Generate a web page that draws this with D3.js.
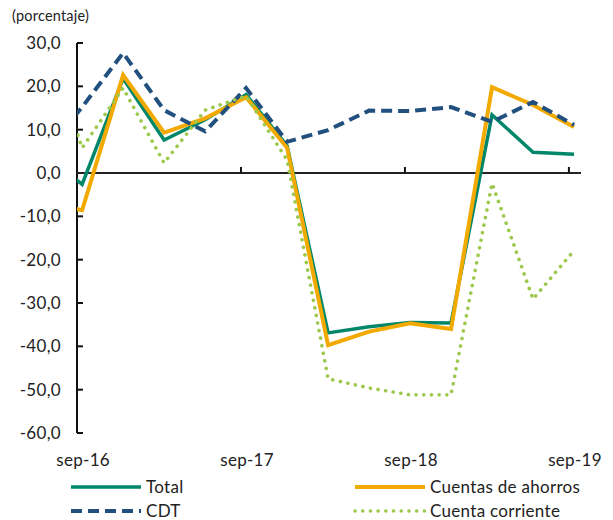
<!DOCTYPE html>
<html><head><meta charset="utf-8">
<script src="https://cdn.jsdelivr.net/npm/d3@7/dist/d3.min.js"></script>
<style>body{margin:0;background:#fff}svg text{font-family:Lato,"Open Sans",sans-serif;fill:#222}</style>
</head><body><svg id="c" width="613" height="520"></svg>
<script>
// quarter index: 0 = sep-16; "jun-16" (index -1) lies left of the plot and is clipped
const quarters = ["jun-16","sep-16","dic-16","mar-17","jun-17","sep-17","dic-17","mar-18","jun-18","sep-18","dic-18","mar-19","jun-19","sep-19"];
const total     = [5.0, -2.6, 21.8, 7.6, 12.3, 18.1, 6.3, -36.9, -35.5, -34.5, -34.6, 13.4, 4.8, 4.3];
const ahorros   = [-6.5, -8.6, 22.6, 9.3, 12.6, 17.5, 5.8, -39.7, -36.6, -34.7, -36.0, 19.8, 15.7, 10.6];
const cdt       = [3.8, 15.2, 27.7, 14.5, 9.6, 19.6, 7.2, 9.9, 14.4, 14.3, 15.2, 11.8, 16.4, 11.1];
const corriente = [34.0, 5.8, 19.6, 2.3, 14.5, 17.8, 3.0, -47.5, -49.6, -51.2, -51.2, -2.4, -29.1, -17.9];
const yTicks = [30,20,10,0,-10,-20,-30,-40,-50,-60];
const xLabels = ["sep-16","sep-17","sep-18","sep-19"];
const xLabelIdx = [0,4,8,12];
const yearTickIdx = [3.875,7.875,11.875];

const series = [
  {name:"Total", values:total, color:"#00876A", width:3.5, dash:null, cap:"butt"},
  {name:"Cuentas de ahorros", values:ahorros, color:"#F2A900", width:4, dash:null, cap:"butt"},
  {name:"CDT", values:cdt, color:"#21507F", width:4, dash:"11 6", cap:"butt"},
  {name:"Cuenta corriente", values:corriente, color:"#9CC94C", width:3.6, dash:"0.1 7.6", cap:"round"}
];

const svg = d3.select("#c");
const x = d3.scaleLinear().domain([-0.125, 12.17]).range([77, 581]);
const y = d3.scaleLinear().domain([-60, 30]).range([433, 43]);

svg.append("defs").append("clipPath").attr("id","clip")
  .append("rect").attr("x",x(-0.125)).attr("y",0).attr("width",x(12.17)-x(-0.125)).attr("height",520);

svg.append("text").attr("x",12).attr("y",21).attr("font-size",14.5).attr("letter-spacing",0.2).text("(porcentaje)");

// y axis
const yAxis = svg.append("g").attr("transform",`translate(${x(-0.125)},0)`);
yAxis.append("line").attr("y1",y(30)).attr("y2",y(-60)).attr("stroke","#111").attr("stroke-width",2);
yTicks.forEach(t=>{
  yAxis.append("line").attr("x1",0).attr("x2",6).attr("y1",y(t)).attr("y2",y(t)).attr("stroke","#111").attr("stroke-width",2);
  yAxis.append("text").attr("x",-16).attr("y",y(t)).attr("dy","0.36em").attr("text-anchor","end").attr("font-size",17).attr("letter-spacing",0.3)
    .text(d3.format(".1f")(t).replace(".",",").replace("−","-"));
});

// zero line with year ticks
svg.append("line").attr("x1",x(-0.125)).attr("x2",x(12.17)).attr("y1",y(0)).attr("y2",y(0)).attr("stroke","#222").attr("stroke-width",2);
yearTickIdx.forEach(q=>{
  svg.append("line").attr("x1",x(q)).attr("x2",x(q)).attr("y1",y(0)).attr("y2",y(0)-6).attr("stroke","#111").attr("stroke-width",2);
});
xLabels.forEach((l,i)=>{
  svg.append("text").attr("x",x(xLabelIdx[i])+1).attr("y",466).attr("text-anchor","middle").attr("font-size",17).attr("letter-spacing",0.3).text(l);
});

const line = d3.line().x((d,i)=>x(i-1)).y(d=>y(d));
const plot = svg.append("g").attr("clip-path","url(#clip)");
series.forEach(s=>{
  plot.append("path").datum(s.values).attr("d",line).attr("fill","none")
    .attr("stroke",s.color).attr("stroke-width",s.width).attr("stroke-linejoin","miter")
    .attr("stroke-linecap",s.cap).attr("stroke-dasharray",s.dash);
});

// legend
const legPos = [[71,487],[355,487],[71,511],[355,511]];
series.forEach((s,i)=>{
  const [lx,ly] = legPos[i];
  svg.append("line").attr("x1",lx).attr("x2",lx+70).attr("y1",ly).attr("y2",ly)
    .attr("stroke",s.color).attr("stroke-width",s.width).attr("stroke-linecap",s.cap).attr("stroke-dasharray",s.dash);
  svg.append("text").attr("x",lx+75).attr("y",ly).attr("dy","0.36em").attr("font-size",17).attr("letter-spacing",0.3).text(s.name);
});
</script></body></html>
